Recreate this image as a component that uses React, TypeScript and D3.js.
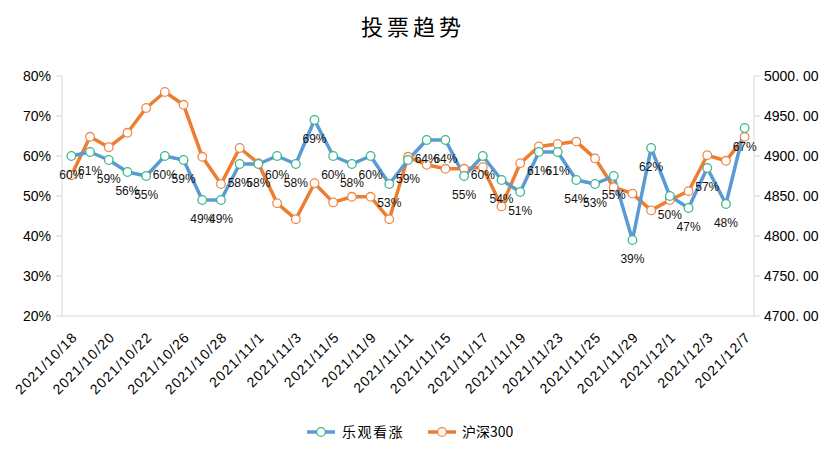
import * as d3 from 'd3';

const dates = [
  '2021/10/18', '2021/10/19', '2021/10/20', '2021/10/21', '2021/10/22', '2021/10/25', '2021/10/26',
  '2021/10/27', '2021/10/28', '2021/10/29', '2021/11/1', '2021/11/2', '2021/11/3', '2021/11/4',
  '2021/11/5', '2021/11/8', '2021/11/9', '2021/11/10', '2021/11/11', '2021/11/12', '2021/11/15',
  '2021/11/16', '2021/11/17', '2021/11/18', '2021/11/19', '2021/11/22', '2021/11/23', '2021/11/24',
  '2021/11/25', '2021/11/26', '2021/11/29', '2021/11/30', '2021/12/1', '2021/12/2', '2021/12/3',
  '2021/12/6', '2021/12/7',
];

// 乐观看涨 (%)
const bullish = [
  60, 61, 59, 56, 55, 60, 59, 49, 49, 58, 58, 60, 58, 69, 60, 58, 60, 53, 59, 64, 64,
  55, 60, 54, 51, 61, 61, 54, 53, 55, 39, 62, 50, 47, 57, 48, 67,
];

// 沪深300
const hs300 = [
  4876, 4924, 4911, 4929, 4960, 4980, 4964, 4899, 4865, 4910, 4891, 4841, 4821, 4866, 4842,
  4849, 4849, 4821, 4899, 4889, 4884, 4884, 4886, 4837, 4891, 4912, 4915, 4918, 4897, 4861,
  4853, 4832, 4845, 4856, 4901, 4894, 4924,
];

const leftTicks = [20, 30, 40, 50, 60, 70, 80];
const rightTicks = [4700, 4750, 4800, 4850, 4900, 4950, 5000];

const W = 827;
const H = 473;
const plot = { left: 62, right: 754, top: 76, bottom: 316 };

const BLUE = '#5B9BD5';
const ORANGE = '#ED7D31';
const BLUE_MARK = '#3DB98A';
const ORANGE_MARK = '#F08A4B';
const AXIS = '#D9D9D9';
const LATIN = '"Liberation Sans", Arial, sans-serif';
const CJK = '"Noto Sans CJK SC", "Liberation Sans", sans-serif';

export default function App() {
  const x = d3.scaleBand<string>().domain(dates).range([plot.left, plot.right]);
  const cx = (d: string) => x(d)! + x.bandwidth() / 2;
  const yL = d3.scaleLinear().domain([20, 80]).range([plot.bottom, plot.top]);
  const yR = d3.scaleLinear().domain([4700, 5000]).range([plot.bottom, plot.top]);

  const lineL = d3.line<number>().x((_, i) => cx(dates[i])).y(d => yL(d));
  const lineR = d3.line<number>().x((_, i) => cx(dates[i])).y(d => yR(d));

  return (
    <div style={{ position: 'absolute', left: 0, top: 0 }}>
      <svg width={W} height={H} style={{ display: 'block', background: '#fff' }}>
        <text x={413} y={35} textAnchor="middle" fontFamily={CJK} fontSize={22} letterSpacing={4} fill="#000">
          投票趋势
        </text>

        {/* axes */}
        <line x1={plot.left} x2={plot.left} y1={plot.top} y2={plot.bottom} stroke={AXIS} />
        <line x1={plot.right} x2={plot.right} y1={plot.top} y2={plot.bottom} stroke={AXIS} />
        <line x1={plot.left} x2={plot.right} y1={plot.bottom} y2={plot.bottom} stroke={AXIS} />

        {leftTicks.map(t => (
          <g key={'l' + t}>
            <line x1={plot.left - 6} x2={plot.left} y1={yL(t)} y2={yL(t)} stroke={AXIS} />
            <text x={51} y={yL(t) + 5} textAnchor="end" fontFamily={LATIN} fontSize={14} fill="#000">
              {t}%
            </text>
          </g>
        ))}

        {rightTicks.map(t => (
          <g key={'r' + t}>
            <line x1={plot.right} x2={plot.right + 6} y1={yR(t)} y2={yR(t)} stroke={AXIS} />
            <text x={764} y={yR(t) + 5} fontFamily={LATIN} fontSize={14} fill="#000">
              {d3.format('.2f')(t).replace('.', '. ')}
            </text>
          </g>
        ))}

        {dates.map((d, i) =>
          i % 2 === 0 ? (
            <text
              key={d}
              transform={`translate(${cx(d) + 7},${plot.bottom + 22}) rotate(-45)`}
              textAnchor="end"
              fontFamily={LATIN}
              fontSize={14}
              letterSpacing={1.1}
              fill="#000"
            >
              {d}
            </text>
          ) : null
        )}

        {/* series */}
        <path d={lineR(hs300)!} fill="none" stroke={ORANGE} strokeWidth={3.5} strokeLinejoin="round" />
        <path d={lineL(bullish)!} fill="none" stroke={BLUE} strokeWidth={3.5} strokeLinejoin="round" />

        {hs300.map((v, i) => (
          <circle key={'o' + i} cx={cx(dates[i])} cy={yR(v)} r={4.3} fill="#fff" stroke={ORANGE_MARK} strokeWidth={1.3} />
        ))}
        {bullish.map((v, i) => (
          <circle key={'b' + i} cx={cx(dates[i])} cy={yL(v)} r={4.3} fill="#fff" stroke={BLUE_MARK} strokeWidth={1.3} />
        ))}

        {bullish.map((v, i) => (
          <text
            key={'t' + i}
            x={cx(dates[i])}
            y={yL(v) + 23}
            textAnchor="middle"
            fontFamily={LATIN}
            fontSize={12}
            fill="#111"
          >
            {v}%
          </text>
        ))}

        {/* legend */}
        <g>
          <line x1={307} x2={335} y1={432} y2={432} stroke={BLUE} strokeWidth={3.5} />
          <circle cx={321} cy={432} r={4.3} fill="#fff" stroke={BLUE_MARK} strokeWidth={1.3} />
          <text x={342} y={437} fontFamily={CJK} fontSize={14} letterSpacing={1.5} fill="#000">
            乐观看涨
          </text>
          <line x1={428} x2={456} y1={432} y2={432} stroke={ORANGE} strokeWidth={3.5} />
          <circle cx={442} cy={432} r={4.3} fill="#fff" stroke={ORANGE_MARK} strokeWidth={1.3} />
          <text x={462} y={437} fontFamily={CJK} fontSize={14} fill="#000">
            沪深300
          </text>
        </g>
      </svg>
    </div>
  );
}
